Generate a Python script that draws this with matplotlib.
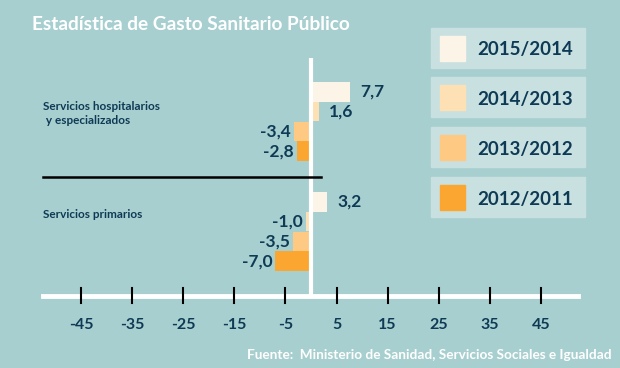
import matplotlib.pyplot as plt
from matplotlib.patches import Rectangle

# Datos
categorias = ["Servicios hospitalarios\n y especializados", "Servicios primarios"]
series = ["2015/2014", "2014/2013", "2013/2012", "2012/2011"]
hospitalarios = [7.7, 1.6, -3.4, -2.8]
primarios = [3.2, -1.0, -3.5, -7.0]
ticks = [-45, -35, -25, -15, -5, 5, 15, 25, 35, 45]

colores = ["#fdf4e8", "#fde0b3", "#fdc983", "#fca632"]
fondo = "#a8cfcf"
azul = "#0e3a55"

W, H = 620, 368
fig = plt.figure(figsize=(6.2, 3.68), dpi=100, facecolor=fondo)

# Ejes en pixeles: x de 43 a 578, y de 58 a 296
ax = fig.add_axes([43 / W, 1 - 296 / H, 535 / W, 238 / H])
ax.set_facecolor("none")
x0, escala = 311, 5.11
ax.set_xlim((43 - x0) / escala, (578 - x0) / escala)
ax.set_ylim(296, 58)
for s in ax.spines.values():
    s.set_visible(False)
ax.set_yticks([])
ax.set_xticks([])

# Linea del eje y marcas
ax.axhline(296, color="white", lw=3.5, clip_on=False, zorder=3)
for t in ticks:
    ax.plot([t, t], [288, 303], color="black", lw=1.5, clip_on=False, zorder=4)
    ax.text(t, 325, str(t), ha="center", va="center", fontsize=11.5,
            fontweight="bold", color=azul, family="Lato")

# Linea vertical del cero
ax.plot([0, 0], [58, 296], color="white", lw=3, zorder=3)

# Barras
alto = 19.5
for g, valores in enumerate([hospitalarios, primarios]):
    for i, v in enumerate(valores):
        yc = 82 + 110 * g + 19.8 * i + alto / 2
        ax.barh(yc, v, height=alto, color=colores[i], zorder=2)
        etiqueta = f"{v:.1f}".replace(".", ",")
        if v >= 0:
            ax.text(v + 2, yc, etiqueta, ha="left", va="center", fontsize=12.5,
                    fontweight="bold", color=azul, family="Lato")
        else:
            ax.text(v - 0.6, yc, etiqueta, ha="right", va="center", fontsize=12.5,
                    fontweight="bold", color=azul, family="Lato")

# Separador entre categorias
ax.plot([(43 - x0) / escala, (321 - x0) / escala], [177, 177], color="black",
        lw=1.8, clip_on=False, zorder=3)

# Etiquetas de categoria
fig.text(43 / W, 1 - 101 / H, categorias[0], ha="left", va="top", fontsize=8.5,
         fontweight="bold", color=azul, family="Lato", linespacing=1.35)
fig.text(43 / W, 1 - 214 / H, categorias[1], ha="left", va="center", fontsize=8.5,
         fontweight="bold", color=azul, family="Lato")

# Leyenda
cajas_y = [28, 77, 127, 177]
for i, nombre in enumerate(series):
    yb = cajas_y[i]
    fig.patches.append(Rectangle((431 / W, 1 - (yb + 40) / H), 154 / W, 40 / H,
                                 transform=fig.transFigure, color="#c8e0e0", zorder=1))
    fig.patches.append(Rectangle((440 / W, 1 - (yb + 33) / H), 25 / W, 25 / H,
                                 transform=fig.transFigure, color=colores[i], zorder=2))
    fig.text(477 / W, 1 - (yb + 22) / H, nombre, ha="left", va="center", fontsize=13.5,
             fontweight="bold", color=azul, family="Lato")

# Titulo y fuente
fig.text(32 / W, 1 - 24 / H, "Estadística de Gasto Sanitario Público", ha="left",
         va="center", fontsize=13.7, fontweight="bold", color="white", family="Lato")
fig.text(612 / W, 1 - 355 / H, "Fuente:  Ministerio de Sanidad, Servicios Sociales e Igualdad",
         ha="right", va="center", fontsize=9.8, fontweight="bold", color="white", family="Lato")

fig.savefig("out.png", dpi=100, facecolor=fondo)
